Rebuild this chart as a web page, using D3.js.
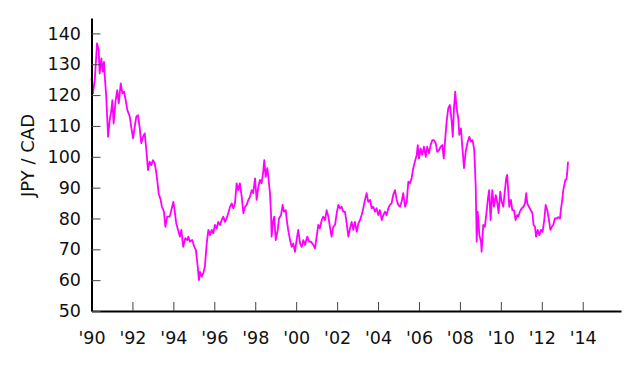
<!DOCTYPE html>
<html>
<head>
<meta charset="utf-8">
<script src="https://cdn.jsdelivr.net/npm/d3@7"></script>
<style>
  body { margin: 0; background: #fff; }
  text { font-family: "DejaVu Sans", sans-serif; }
</style>
</head>
<body>
<script>
// JPY per CAD (decimal years)
const years = [
  1990.0, 1990.07, 1990.16, 1990.27, 1990.35, 1990.40, 1990.48, 1990.55, 1990.61, 1990.64,
  1990.72, 1990.81, 1990.89, 1990.97, 1991.02, 1991.08, 1991.18, 1991.26, 1991.33, 1991.43,
  1991.51, 1991.59, 1991.67, 1991.75, 1991.87, 1991.94, 1992.03, 1992.11, 1992.19, 1992.27,
  1992.35, 1992.43, 1992.52, 1992.60, 1992.68, 1992.76, 1992.84, 1992.92, 1993.0, 1993.09,
  1993.17, 1993.21, 1993.28, 1993.38, 1993.44, 1993.54, 1993.61, 1993.70, 1993.82, 1993.90,
  1994.0, 1994.06, 1994.14, 1994.23, 1994.32, 1994.39, 1994.48, 1994.58, 1994.68,
  1994.73, 1994.81, 1994.92, 1995.02, 1995.10, 1995.19, 1995.25, 1995.30, 1995.38, 1995.46,
  1995.54, 1995.63, 1995.71, 1995.79, 1995.87, 1995.95, 1996.03, 1996.12, 1996.19, 1996.28,
  1996.36, 1996.44, 1996.52, 1996.60, 1996.68, 1996.77, 1996.85, 1996.93, 1997.01, 1997.09,
  1997.17, 1997.25, 1997.34, 1997.42, 1997.50, 1997.58, 1997.66, 1997.74, 1997.83, 1997.90,
  1997.99, 1998.07, 1998.15, 1998.23, 1998.31, 1998.39, 1998.44, 1998.51, 1998.59, 1998.64,
  1998.72, 1998.77, 1998.80, 1998.88, 1998.93, 1999.0, 1999.10, 1999.16, 1999.26, 1999.34,
  1999.40, 1999.49,
  1999.54, 1999.61, 1999.70, 1999.78, 1999.86, 1999.94, 2000.02, 2000.10, 2000.19, 2000.27,
  2000.35, 2000.43, 2000.54, 2000.63, 2000.72, 2000.84, 2000.92, 2001.0, 2001.08, 2001.16,
  2001.25, 2001.32, 2001.41, 2001.49, 2001.57, 2001.65, 2001.73, 2001.81, 2001.90, 2001.98,
  2002.06, 2002.14, 2002.22, 2002.30, 2002.38, 2002.47, 2002.55, 2002.63, 2002.71, 2002.79,
  2002.87, 2002.96, 2003.04, 2003.12, 2003.20, 2003.28, 2003.36, 2003.44, 2003.52, 2003.61,
  2003.69, 2003.77, 2003.85, 2003.93, 2004.01, 2004.09, 2004.18, 2004.26,
  2004.34, 2004.42, 2004.50, 2004.58, 2004.66, 2004.74, 2004.83, 2004.91, 2004.99, 2005.07,
  2005.15, 2005.23, 2005.32, 2005.40, 2005.48, 2005.56, 2005.64, 2005.72, 2005.80, 2005.89,
  2005.94, 2006.0, 2006.08, 2006.16, 2006.24, 2006.33, 2006.40, 2006.49, 2006.57, 2006.65,
  2006.73, 2006.82, 2006.89, 2006.98, 2007.06, 2007.14, 2007.21, 2007.27, 2007.35, 2007.43,
  2007.51, 2007.60, 2007.65, 2007.71, 2007.77, 2007.84, 2007.92, 2007.97, 2008.05, 2008.11,
  2008.20, 2008.28, 2008.38, 2008.46, 2008.54, 2008.62, 2008.70, 2008.77, 2008.82, 2008.87,
  2008.95, 2009.03, 2009.06, 2009.14,
  2009.22, 2009.31, 2009.38, 2009.43, 2009.50, 2009.58, 2009.66, 2009.75, 2009.82, 2009.89,
  2009.97, 2010.04, 2010.12, 2010.20, 2010.26, 2010.31, 2010.36, 2010.41, 2010.49, 2010.56,
  2010.64, 2010.72, 2010.79, 2010.85, 2010.93, 2011.02, 2011.10, 2011.18, 2011.24, 2011.29,
  2011.37, 2011.46, 2011.54, 2011.60, 2011.67, 2011.72, 2011.80, 2011.88, 2011.96, 2012.04,
  2012.12, 2012.19, 2012.27, 2012.35, 2012.42, 2012.49, 2012.56, 2012.64, 2012.73, 2012.80,
  2012.89, 2012.93, 2013.0, 2013.05, 2013.10, 2013.15, 2013.20, 2013.24, 2013.28
]
const rates = [
  125.4, 120.6, 124.9, 136.8, 134.6, 127.0, 131.9, 127.6, 130.8, 127.0,
  119.5, 106.5, 111.9, 115.2, 118.4, 110.8, 118.4, 121.6, 117.3, 123.8,
  120.6, 121.1, 118.4, 115.2, 113.0, 109.7, 106.0, 109.7, 113.0, 113.5,
  109.7, 104.4, 106.5, 107.6, 102.2, 95.7, 98.4, 97.3, 98.9, 97.9,
  94.6, 92.5, 88.2, 86.0, 83.8, 82.2, 77.3, 80.6, 80.6, 82.7,
  85.4, 82.7, 78.4, 76.3, 74.1, 76.3, 70.8, 73.6, 73.0,
  74.1, 72.5, 73.0, 70.8, 69.8, 64.4, 60.0, 62.7, 61.1, 62.2,
  64.4, 71.9, 76.3, 74.6, 76.3, 75.2, 77.9, 76.8, 78.9, 77.9,
  79.5, 80.6, 78.9, 80.0, 81.7, 83.8, 84.9, 83.3, 84.9, 91.4,
  89.2, 91.4, 87.0, 81.7, 83.8, 84.4, 86.0, 87.0, 89.2, 88.2,
  93.0, 86.0, 90.3, 92.5, 91.4, 95.2, 98.9, 93.5, 96.3, 93.5,
  88.2, 81.7, 74.1, 79.5, 80.6, 73.0, 76.3, 80.0, 81.1, 84.4,
  82.2, 82.7,
  79.5, 76.3, 73.0, 70.8, 71.9, 69.2, 73.0, 76.3, 71.9, 70.8,
  73.0, 71.4, 74.1, 72.5, 72.5, 71.4, 70.3, 74.1, 77.9, 76.8,
  79.5, 80.6, 79.5, 82.7, 80.6, 77.3, 74.1, 77.3, 77.9, 81.7,
  84.4, 83.3, 83.8, 82.2, 82.2, 78.4, 74.1, 76.8, 78.9, 76.3,
  78.9, 75.7, 78.4, 79.5, 81.1, 83.3, 86.0, 88.2, 85.4, 86.0,
  83.3, 83.8, 82.2, 83.3, 81.1, 82.7, 79.5, 81.1,
  82.2, 81.1, 83.3, 84.4, 84.9, 87.6, 89.2, 86.0, 84.4, 83.8,
  85.4, 88.2, 83.8, 85.4, 91.9, 91.4, 93.0, 96.3, 98.4, 100.6,
  103.8, 99.5, 102.7, 100.6, 103.3, 100.0, 103.3, 101.1, 103.8, 105.4,
  105.4, 104.4, 101.6, 102.2, 103.3, 103.8, 99.5, 104.9, 111.4, 115.7,
  116.8, 111.4, 106.5, 115.7, 121.1, 115.7, 112.5, 107.1, 109.2, 103.8,
  96.3, 101.6, 104.9, 106.5, 104.9, 105.4, 102.2, 90.8, 72.5, 82.2,
  74.6, 72.5, 69.2, 77.9,
  77.3, 82.7, 87.0, 89.2, 79.5, 89.2, 83.8, 87.6, 85.4, 81.7,
  88.7, 85.4, 83.8, 89.2, 93.0, 94.1, 89.2, 83.8, 86.0, 82.7,
  82.7, 79.5, 81.1, 80.6, 82.2, 83.3, 83.8, 84.9, 88.2, 84.9,
  83.8, 82.7, 81.7, 77.9, 77.3, 74.1, 76.3, 74.6, 76.3, 75.7,
  79.5, 84.4, 82.7, 79.5, 76.3, 77.3, 77.9, 80.0, 80.0, 80.4,
  80.0, 82.7, 86.0, 89.2, 90.8, 92.5, 92.5, 94.6, 98.4
]
const xTickYears = [1990, 1992, 1994, 1996, 1998, 2000, 2002, 2004, 2006, 2008, 2010, 2012, 2014]
const yTicks = [50, 60, 70, 80, 90, 100, 110, 120, 130, 140]

const w = 640
const h = 366
const plotLeft = 91.5, plotRight = 621, plotTop = 18, plotBottom = 311

let svg = d3.select("body").append("svg").attr("width", w).attr("height", h)

let x = d3.scaleLinear().domain([1990, 2015.87]).range([plotLeft, plotRight])
let y = d3.scaleLinear().domain([50, 145]).range([plotBottom, plotTop])

let data = years.map((yr, i) => ({ yr: yr, v: rates[i] }))

// line first so axes sit over it
svg.append("path")
  .datum(data)
  .attr("fill", "none")
  .attr("stroke", "#ff00ff")
  .attr("stroke-width", 1.8)
  .attr("stroke-linejoin", "round")
  .attr("d", d3.line().x(d => x(d.yr)).y(d => y(d.v)))

let xAxis = svg.append("g")
  .attr("transform", "translate(0," + plotBottom + ")")
  .call(d3.axisBottom(x).tickValues(xTickYears).tickSize(-9).tickSizeOuter(0).tickPadding(20.5)
    .tickFormat(d => "'" + String(d % 100).padStart(2, "0")))

let yAxis = svg.append("g")
  .attr("transform", "translate(" + plotLeft + ",0)")
  .call(d3.axisLeft(y).tickValues(yTicks).tickSize(-9).tickSizeOuter(0).tickPadding(10.5))

for (const g of [xAxis, yAxis]) {
  g.select(".domain").attr("stroke", "#000").attr("stroke-width", 2)
  g.selectAll(".tick line").attr("stroke", "#444").attr("stroke-width", 1)
  g.selectAll(".tick text").attr("font-size", 17.5).attr("fill", "#111")
    .attr("font-family", "DejaVu Sans, sans-serif")
}

svg.append("text")
  .attr("transform", "translate(33.5,155.5) rotate(-90)")
  .attr("text-anchor", "middle")
  .attr("font-size", 18)
  .attr("fill", "#111")
  .text("JPY / CAD")
</script>
</body>
</html>
